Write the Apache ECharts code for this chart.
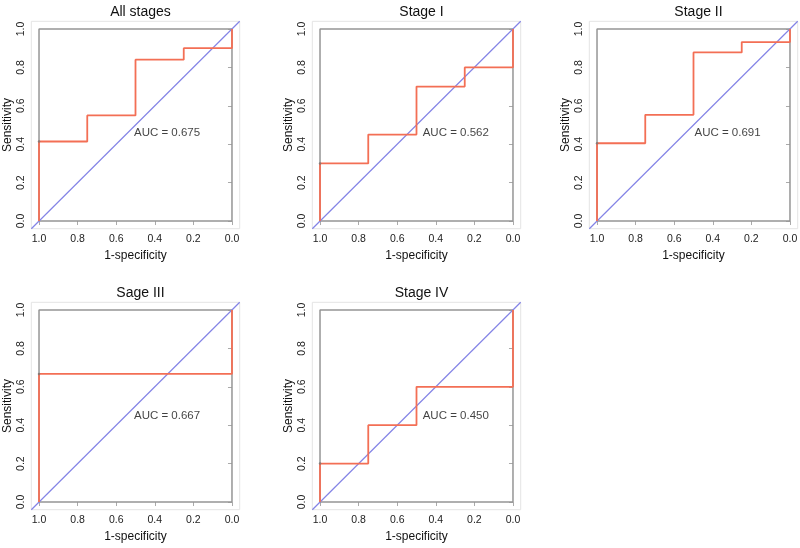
<!DOCTYPE html>
<html>
<head>
<meta charset="utf-8">
<script src="https://cdn.jsdelivr.net/npm/echarts@6/dist/echarts.min.js"></script>
<style>html,body{margin:0;padding:0;background:#fff;}#chart{width:800px;height:548px;}</style>
</head>
<body>
<div id="chart"></div>
<script>
// ---- Data ----
const panelTitles = ['All stages', 'Stage I', 'Stage II', 'Sage III', 'Stage IV'];
const aucTexts = ['AUC = 0.675', 'AUC = 0.562', 'AUC = 0.691', 'AUC = 0.667', 'AUC = 0.450'];
const tickValues = [0, 0.2, 0.4, 0.6, 0.8, 1.0];

// ROC step coordinates: specificity (x, reversed axis) and sensitivity (y)
const allStagesSpec = [1.0, 1.0, 0.75, 0.75, 0.5, 0.5, 0.25, 0.25, 0.0, 0.0];
const allStagesSens = [0.0, 0.414, 0.414, 0.55, 0.55, 0.84, 0.84, 0.90, 0.90, 1.0];
const stageISpec = [1.0, 1.0, 0.75, 0.75, 0.5, 0.5, 0.25, 0.25, 0.0, 0.0];
const stageISens = [0.0, 0.30, 0.30, 0.45, 0.45, 0.70, 0.70, 0.80, 0.80, 1.0];
const stageIISpec = [1.0, 1.0, 0.75, 0.75, 0.5, 0.5, 0.25, 0.25, 0.0, 0.0];
const stageIISens = [0.0, 0.405, 0.405, 0.553, 0.553, 0.878, 0.878, 0.932, 0.932, 1.0];
const stageIIISpec = [1.0, 1.0, 0.0, 0.0];
const stageIIISens = [0.0, 0.667, 0.667, 1.0];
const stageIVSpec = [1.0, 1.0, 0.75, 0.75, 0.5, 0.5, 0.0, 0.0];
const stageIVSens = [0.0, 0.20, 0.20, 0.40, 0.40, 0.60, 0.60, 1.0];

const rocSpecs = [allStagesSpec, stageISpec, stageIISpec, stageIIISpec, stageIVSpec];
const rocSens = [allStagesSens, stageISens, stageIISens, stageIIISens, stageIVSens];

// Frame (box at 0..1) and chance diagonal spanning the plot region
const boxSpec = [0, 1, 1, 0, 0];
const boxSens = [0, 0, 1, 1, 0];
const diagSpec = [1.04, -0.04];
const diagSens = [-0.04, 1.04];

// ---- Layout / annotation placement ----
const axisMin = -0.04, axisMax = 1.04;
const grids = [
  {left: 31.3, top: 21.3},
  {left: 312.3, top: 21.3},
  {left: 589.3, top: 21.3},
  {left: 31.3, top: 302.3},
  {left: 312.3, top: 302.3}
];
const gridW = 208.4, gridH = 207.4;
const aucPos = [[0.508, 0.458], [0.468, 0.458], [0.495, 0.46], [0.508, 0.45], [0.468, 0.45]];

const FONT = 'Liberation Sans, Arial, sans-serif';
const RED = '#F36F55', BLUE = '#8484E6', BOX = '#959595';

const zip = (xs, ys) => xs.map((x, i) => [x, ys[i]]);
const fmt = v => v.toFixed(1);

const option = {
  backgroundColor: '#fff',
  animation: false,
  title: grids.map((g, i) => ({
    text: panelTitles[i],
    left: g.left + gridW / 2,
    top: g.top - 21.3,
    textAlign: 'center',
    textStyle: {fontFamily: FONT, fontSize: 14, fontWeight: 'normal', color: '#111'}
  })),
  grid: grids.map(g => ({
    left: g.left, top: g.top, width: gridW, height: gridH,
    containLabel: false, outerBoundsMode: 'none',
    show: true, borderColor: '#e4e4e4', borderWidth: 1, backgroundColor: 'transparent'
  })),
  xAxis: grids.map((g, i) => ({
    type: 'value', gridIndex: i, min: axisMin, max: axisMax, inverse: true,
    name: '1-specificity', nameLocation: 'middle', nameGap: 21,
    nameTextStyle: {fontFamily: FONT, fontSize: 12, color: '#111'},
    axisLine: {show: false},
    splitLine: {show: false},
    axisTick: {show: true, customValues: tickValues, length: 4, lineStyle: {color: '#aaa'}},
    axisLabel: {customValues: tickValues, formatter: fmt, margin: 5, hideOverlap: false,
      fontFamily: FONT, fontSize: 10.5, color: '#222'}
  })),
  yAxis: grids.map((g, i) => ({
    type: 'value', gridIndex: i, min: axisMin, max: axisMax,
    name: 'Sensitivity', nameLocation: 'middle', nameGap: 18, nameRotate: 90,
    nameTextStyle: {fontFamily: FONT, fontSize: 12, color: '#111'},
    axisLine: {show: false},
    splitLine: {show: false},
    axisTick: {show: true, customValues: tickValues, length: 4, lineStyle: {color: '#aaa'}},
    axisLabel: {customValues: tickValues, formatter: fmt, rotate: 90, margin: 5,
      fontFamily: FONT, fontSize: 10.5, color: '#222'}
  })),
  series: []
};

grids.forEach((g, i) => {
  option.series.push({
    type: 'line', xAxisIndex: i, yAxisIndex: i, data: zip(boxSpec, boxSens),
    symbol: 'none', lineStyle: {color: BOX, width: 1.5}, silent: true, z: 2
  });
  option.series.push({
    type: 'line', xAxisIndex: i, yAxisIndex: i, data: zip(diagSpec, diagSens),
    symbol: 'none', clip: false, color: BLUE, lineStyle: {color: BLUE, width: 1.2, opacity: 1},
    silent: true, z: 3
  });
  option.series.push({
    type: 'line', xAxisIndex: i, yAxisIndex: i, data: zip(rocSpecs[i], rocSens[i]),
    symbol: 'none', lineStyle: {color: RED, width: 1.8}, silent: true, z: 4
  });
  option.series.push({
    type: 'scatter', xAxisIndex: i, yAxisIndex: i, data: [[rocSpecs[i][1], rocSens[i][1]]],
    symbolSize: 2.5, itemStyle: {color: '#777'}, silent: true, z: 5
  });
  option.series.push({
    type: 'scatter', xAxisIndex: i, yAxisIndex: i, data: [aucPos[i]],
    symbolSize: 0, silent: true, z: 6,
    label: {show: true, position: 'right', distance: 0, formatter: aucTexts[i],
      fontFamily: FONT, fontSize: 11.5, color: '#111'}
  });
});

const chart = echarts.init(document.getElementById('chart'), null, {renderer: 'canvas'});
chart.setOption(option);
</script>
</body>
</html>
